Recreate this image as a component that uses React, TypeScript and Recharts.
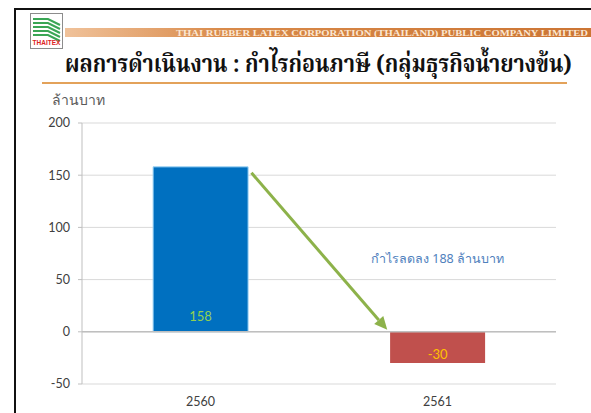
import React from "react";
import {
  BarChart,
  Bar,
  XAxis,
  YAxis,
  CartesianGrid,
  Cell,
  LabelList,
  ReferenceLine,
  ReferenceDot,
} from "recharts";

const categories = ["2560", "2561"];
const profitValues = [158, -30];
const yTicks = [-50, 0, 50, 100, 150, 200];
const barColors = ["#0070c0", "#c0504d"];
const labelColors = ["#92d050", "#ffc000"];
const unitLabel = "ล้านบาท";
const annotationText = "กำไรลดลง 188 ล้านบาท";
const titleText = "ผลการดำเนินงาน : กำไรก่อนภาษี (กลุ่มธุรกิจน้ำยางข้น)";
const companyText = "THAI RUBBER LATEX CORPORATION (THAILAND) PUBLIC COMPANY LIMITED";

const data = categories.map((c, i) => ({ year: c, value: profitValues[i] }));

const ArrowShape = (props: any) => {
  const { x1, y1, x2, y2 } = props;
  if ([x1, y1, x2, y2].some((v) => typeof v !== "number" || isNaN(v))) return null;
  const dx = x2 - x1;
  const sx = x1 + dx * 0.215;
  const ex = x2 - dx * 0.212;
  const sy = y1 + 6;
  const ey = y2 - 2;
  const ang = Math.atan2(ey - sy, ex - sx);
  const len = 13;
  const w = 6;
  const bx = ex - len * Math.cos(ang);
  const by = ey - len * Math.sin(ang);
  const px = -Math.sin(ang) * w;
  const py = Math.cos(ang) * w;
  return (
    <g>
      <line x1={sx} y1={sy} x2={bx} y2={by} stroke="#8db24a" strokeWidth={3} />
      <polygon
        points={`${ex},${ey} ${bx + px},${by + py} ${bx - px},${by - py}`}
        fill="#8db24a"
      />
    </g>
  );
};

const ValueLabel = (props: any) => {
  const { x, y, width, height, value, index } = props;
  const top = Math.min(y, y + height);
  const bottom = Math.max(y, y + height);
  const cy = value >= 0 ? bottom - 16 : top + 22;
  return (
    <text
      x={x + width / 2}
      y={cy}
      textAnchor="middle"
      dominantBaseline="central"
      fill={labelColors[index] || "#000"}
      fontSize={13}
      fontFamily="Lato, 'Open Sans', sans-serif"
    >
      {value}
    </text>
  );
};

const Logo = () => (
  <svg width={33} height={36} viewBox="0 0 33 36">
    <rect x={0.5} y={0.5} width={32} height={35} fill="#fff" stroke="#8c8c8c" />
    {[0, 1, 2, 3, 4].map((i) => (
      <path
        key={i}
        d={`M3 ${6 + i * 4} L18 ${6 + i * 4} L30 ${12 + i * 4}`}
        stroke="#3aa655"
        strokeWidth={2}
        fill="none"
      />
    ))}
    <text x={16.5} y={32} textAnchor="middle" fontSize={6.5} fill="#d22" fontWeight="bold" fontFamily="Liberation Sans, sans-serif">
      THAITEX
    </text>
  </svg>
);

export default function App() {
  return (
    <div
      style={{
        position: "relative",
        width: 591,
        height: 413,
        background: "#fff",
        overflow: "hidden",
      }}
    >
      <style>{`html,body{margin:0;padding:0;overflow:hidden;}`}</style>
      <div
        style={{
          position: "absolute",
          left: 14,
          top: 8,
          width: 600,
          height: 420,
          borderLeft: "2px solid #111",
          borderTop: "2px solid #111",
        }}
      />
      <div style={{ position: "absolute", left: 30, top: 13 }}>
        <Logo />
      </div>
      <div
        style={{
          position: "absolute",
          left: 65,
          top: 28,
          width: 526,
          height: 9,
          background: "linear-gradient(to right, #f0c29a 0%, #d98a4a 30%, #cc7534 100%)",
        }}
      />
      <svg
        width={591}
        height={100}
        style={{ position: "absolute", left: 0, top: 0 }}
      >
        <text
          x={176}
          y={35.5}
          textLength={412}
          lengthAdjust="spacingAndGlyphs"
          fontFamily="'Liberation Serif', serif"
          fontWeight="bold"
          fontSize={9}
          fill="#fbe7d2"
        >
          {companyText}
        </text>
        <text
          transform="translate(65,72) scale(0.874,1)"
          x={0}
          y={0}
          textLength={580}
          lengthAdjust="spacingAndGlyphs"
          fontFamily="'Noto Serif Thai', 'Liberation Serif', serif"
          fontWeight="bold"
          fontSize={24}
          fill="#111"
        >
          {titleText}
        </text>
      </svg>
      <div
        style={{
          position: "absolute",
          left: 42,
          top: 82,
          width: 525,
          height: 2,
          background: "#e3a25a",
        }}
      />
      <div
        style={{
          position: "absolute",
          left: 52,
          top: 91,
          fontFamily: "Lato, 'Noto Sans', sans-serif",
          fontSize: 14,
          color: "#595959",
          whiteSpace: "nowrap",
          lineHeight: "18px",
        }}
      >
        {unitLabel}
      </div>
      <div style={{ position: "absolute", left: 0, top: 0, width: 591, height: 413 }}>
        <BarChart
          width={591}
          height={413}
          data={data}
          margin={{ top: 123, right: 35, bottom: 0, left: 0 }}
          barCategoryGap="30%"
        >
          <CartesianGrid vertical={false} stroke="#d9d9d9" />
          <XAxis
            dataKey="year"
            height={29}
            axisLine={false}
            tickLine={false}
            tickSize={6}
            tickMargin={7}
            tick={{ fill: "#404040", fontSize: 12.5, fontFamily: "Lato, 'Open Sans', sans-serif" }}
          />
          <YAxis
            width={82}
            domain={[-50, 200]}
            ticks={yTicks}
            interval={0}
            axisLine={{ stroke: "#bfbfbf" }}
            tickLine={{ stroke: "#bfbfbf" }}
            tickSize={4}
            tickMargin={8}
            tick={{ fill: "#404040", fontSize: 12.5, fontFamily: "Lato, 'Open Sans', sans-serif" }}
          />
          <ReferenceLine y={0} stroke="#bfbfbf" strokeWidth={1.5} />
          <Bar dataKey="value" isAnimationActive={false}>
            {data.map((d, i) => (
              <Cell key={d.year} fill={barColors[i]} stroke={i === 0 ? "#9fd4f5" : "none"} />
            ))}
            <LabelList dataKey="value" content={<ValueLabel />} />
          </Bar>
          <ReferenceLine
            segment={[
              { x: categories[0], y: profitValues[0] },
              { x: categories[1], y: 0 },
            ]}
            shape={<ArrowShape />}
          />
          <ReferenceDot
            x={categories[1]}
            y={70}
            r={0}
            fill="none"
            stroke="none"
            label={{
              value: annotationText,
              position: "center",
              fill: "#4f81bd",
              fontSize: 12.5,
              fontFamily: "'Noto Sans', Lato, sans-serif",
            }}
          />
        </BarChart>
      </div>
    </div>
  );
}
